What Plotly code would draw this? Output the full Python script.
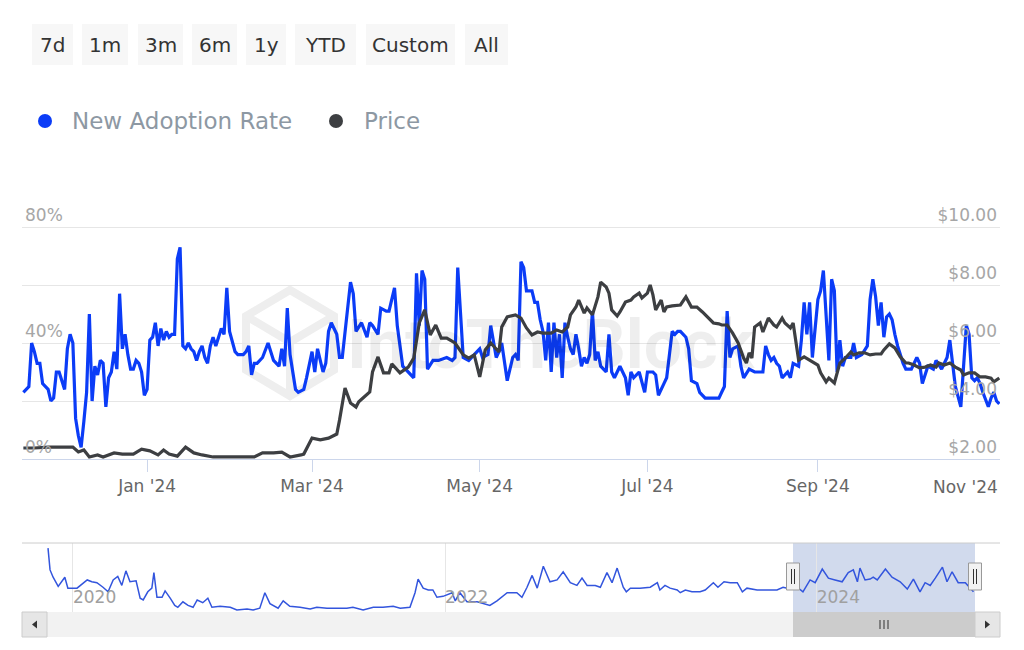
import pandas as pd
import plotly.graph_objects as go

W, H = 1024, 650

# ---------------- data ----------------
BASE_DATE = "2024-01-01"      # day offsets below are counted from this date
rate_day = [-45, -43, -42, -41, -40, -39, -38, -36, -35, -34, -33, -32, -31, -30, -29, -28, -27, -26, -25, -24,
            -23, -22, -21, -20, -19, -18, -17, -16, -15, -14, -13, -12, -11, -10, -9, -8, -7, -6, -5, -4,
            -3, -2, -1, 0, 1, 2, 3, 4, 5, 6, 7, 8, 9, 10, 11, 12, 13, 14, 15, 16,
            17, 18, 19, 20, 21, 22, 23, 24, 25, 26, 27, 28, 29, 30, 32, 33, 35, 36, 37, 38,
            39, 40, 41, 42, 44, 45, 46, 48, 49, 50, 51, 52, 54, 55, 57, 58, 60, 61, 62, 64,
            65, 66, 67, 69, 70, 71, 73, 74, 75, 76, 78, 80, 81, 82, 84, 85, 87, 88, 90, 91,
            93, 95, 97, 98, 99, 100, 101, 102, 104, 106, 109, 111, 112, 113, 115, 117, 119, 121, 122, 124,
            125, 127, 128, 129, 131, 133, 134, 135, 136, 137, 138, 140, 141, 142, 143, 144, 145, 146, 147, 148,
            149, 150, 151, 152, 153, 154, 155, 156, 157, 158, 159, 160, 161, 162, 163, 164, 165, 167, 168, 169,
            170, 172, 174, 175, 176, 177, 179, 180, 181, 182, 184, 185, 186, 188, 189, 190, 191, 192, 193, 194,
            196, 197, 198, 200, 201, 203, 205, 207, 208, 209, 210, 211, 212, 213, 215, 216, 217, 219, 221, 222,
            224, 225, 226, 227, 228, 229, 230, 231, 233, 234, 235, 237, 238, 239, 240, 241, 242, 244, 245, 246,
            247, 248, 249, 250, 251, 252, 253, 254, 256, 257, 258, 260, 262, 263, 264, 265, 266, 267, 268, 269,
            270, 271, 272, 273, 275, 276, 278, 280, 281, 282, 284, 286, 287, 289, 290, 291, 292, 293, 294, 296,
            297, 298, 299, 300, 301, 302, 303, 304, 306, 307, 308, 309, 310]
rate_pct = [23, 25, 40, 37, 33, 33, 26, 24, 20, 21, 30, 30, 27, 24, 38, 43, 40, 14, 8, 4,
            13, 23, 50, 20, 32, 29, 34, 33, 18, 28, 30, 37, 31, 57, 38, 43, 36, 31, 31, 34,
            33, 30, 22, 24, 41, 42, 47, 39, 45, 41, 44, 42, 43, 43, 69, 73, 39, 38, 40, 38,
            37, 34, 37, 39, 35, 33, 39, 42, 39, 42, 45, 43, 59, 44, 37, 36, 36, 37, 39, 29,
            33, 33, 34, 35, 40, 37, 34, 32, 38, 32, 52, 36, 24, 23, 24, 28, 37, 30, 38, 30,
            33, 44, 47, 43, 35, 35, 54, 61, 57, 44, 47, 42, 47, 46, 43, 52, 51, 51, 59, 46,
            32, 30, 28, 64, 46, 65, 62, 31, 34, 34, 35, 34, 35, 66, 35, 34, 36, 38, 35, 36,
            46, 35, 37, 40, 27, 35, 36, 34, 68, 66, 58, 58, 54, 54, 48, 44, 34, 47, 30, 47,
            35, 43, 28, 47, 42, 38, 36, 43, 38, 32, 35, 33, 36, 51, 34, 37, 32, 30, 43, 30,
            28, 32, 28, 22, 30, 28, 30, 26, 23, 30, 30, 29, 22, 26, 28, 36, 44, 43, 44, 44,
            42, 38, 27, 26, 23, 21, 21, 21, 21, 23, 25, 51, 35, 38, 39, 32, 28, 31, 30, 30,
            30, 39, 36, 34, 35, 33, 32, 28, 30, 28, 33, 32, 41, 54, 43, 54, 35, 55, 58, 65,
            51, 34, 62, 58, 30, 41, 32, 35, 35, 40, 35, 36, 39, 55, 62, 56, 46, 54, 42, 49,
            50, 48, 43, 39, 33, 31, 31, 35, 33, 26, 32, 31, 34, 31, 33, 35, 41, 34, 25, 18,
            32, 46, 43, 28, 27, 28, 26, 23, 18, 21, 23, 20, 19]

price_day = [-45, -41, -36, -32, -27, -25, -23, -21, -18, -16, -12, -9, -5, -2, 1, 4, 6, 8, 11, 14,
             17, 20, 24, 29, 34, 39, 42, 46, 49, 52, 56, 57, 60, 63, 66, 69, 70, 72, 74, 76,
             77, 79, 81, 82, 84, 86, 88, 89, 92, 95, 97, 99, 101, 103, 105, 107, 109, 112, 115, 117,
             119, 121, 123, 125, 128, 129, 131, 134, 136, 138, 140, 142, 144, 147, 149, 151, 153, 154, 156, 157,
             159, 160, 162, 164, 165, 167, 168, 169, 171, 172, 174, 176, 177, 179, 180, 182, 183, 184, 185, 187,
             188, 189, 191, 194, 196, 198, 200, 202, 204, 206, 208, 209, 211, 213, 215, 217, 218, 219, 220, 221,
             223, 224, 226, 228, 229, 231, 232, 234, 235, 236, 237, 239, 241, 244, 245, 247, 248, 250, 252, 254,
             256, 257, 259, 261, 263, 265, 267, 268, 270, 272, 274, 276, 277, 279, 281, 283, 285, 287, 288, 290,
             292, 294, 296, 297, 299, 301, 303, 305, 307, 308, 310]
price_usd = [2.38, 2.38, 2.41, 2.41, 2.41, 2.24, 2.31, 2.07, 2.14, 2.07, 2.21, 2.17, 2.17, 2.34, 2.28, 2.14, 2.31, 2.17, 2.10, 2.41,
             2.21, 2.14, 2.07, 2.07, 2.07, 2.07, 2.21, 2.21, 2.24, 2.07, 2.14, 2.17, 2.72, 2.66, 2.72, 2.86, 3.34, 4.45, 3.93, 3.79,
             3.97, 4.14, 4.31, 5.00, 5.52, 4.97, 4.97, 5.28, 4.97, 5.17, 5.48, 6.69, 7.14, 6.28, 6.62, 6.17, 6.17, 6.00, 5.59, 5.48,
             5.59, 4.83, 5.76, 6.00, 5.69, 6.55, 6.90, 6.97, 6.86, 6.52, 6.28, 6.38, 6.34, 6.34, 6.45, 6.38, 6.55, 6.97, 7.24, 7.48,
             7.03, 7.21, 6.97, 7.59, 8.10, 7.93, 7.72, 7.14, 6.93, 7.07, 7.41, 7.48, 7.59, 7.72, 7.55, 7.72, 8.00, 7.66, 7.14, 7.48,
             7.07, 7.24, 7.28, 7.31, 7.59, 7.24, 7.24, 7.07, 6.86, 6.69, 6.66, 6.62, 6.62, 6.34, 6.00, 5.48, 5.31, 5.66, 5.48, 6.55,
             6.69, 6.38, 6.86, 6.62, 6.55, 6.86, 6.69, 6.52, 6.69, 6.00, 5.41, 5.52, 5.41, 5.24, 4.97, 4.66, 4.79, 4.62, 5.31, 5.48,
             5.69, 5.59, 5.66, 5.66, 5.59, 5.62, 5.62, 5.76, 5.97, 5.83, 5.52, 5.31, 5.31, 5.24, 5.14, 5.17, 5.24, 5.17, 5.31, 5.24,
             5.31, 5.17, 5.07, 4.90, 4.97, 4.97, 4.83, 4.83, 4.79, 4.66, 4.79]

NAV_BASE_DATE = "2020-01-01"  # navigator day offsets are counted from this date
nav_day = [-49, -45, -39, -29, -16, -10, 8, 18, 28, 37, 47, 59, 69, 79, 88, 96, 104, 112, 124, 132,
           138, 147, 155, 159, 165, 175, 181, 191, 200, 206, 216, 226, 236, 244, 255, 265, 273, 289, 309, 322,
           342, 354, 367, 377, 387, 403, 413, 426, 446, 466, 479, 499, 519, 538, 550, 570, 590, 609, 629, 643,
           662, 672, 678, 688, 698, 707, 715, 727, 745, 751, 760, 774, 794, 819, 833, 853, 872, 882, 892, 902,
           912, 924, 937, 951, 963, 977, 990, 1000, 1010, 1026, 1036, 1049, 1059, 1069, 1081, 1087, 1095, 1114, 1134, 1148,
           1153, 1163, 1173, 1187, 1193, 1203, 1216, 1232, 1242, 1258, 1267, 1279, 1291, 1305, 1315, 1324, 1344, 1364, 1383, 1395,
           1409, 1423, 1434, 1448, 1458, 1472, 1484, 1497, 1511, 1523, 1533, 1541, 1546, 1556, 1566, 1572, 1580, 1596, 1609, 1625,
           1639, 1651, 1664, 1674, 1684, 1694, 1708, 1717, 1727, 1739, 1753, 1769]
nav_pct = [70, 46, 38, 28, 38, 26, 26, 31, 35, 33, 32, 27, 22, 35, 39, 29, 45, 33, 34, 15,
           13, 22, 26, 43, 16, 16, 23, 15, 7, 5, 11, 7, 5, 13, 10, 15, 5, 6, 5, 2,
           3, 2, 4, 21, 9, 4, 12, 6, 5, 3, 5, 4, 4, 4, 5, 2, 5, 5, 6, 4,
           5, 21, 36, 26, 24, 24, 16, 17, 21, 12, 21, 11, 11, 7, 12, 21, 21, 16, 27, 40,
           26, 50, 33, 35, 44, 32, 29, 37, 29, 29, 27, 43, 32, 48, 27, 22, 26, 26, 27, 32,
           24, 29, 26, 24, 21, 24, 22, 22, 24, 32, 27, 33, 32, 32, 22, 26, 24, 24, 24, 27,
           25, 27, 22, 35, 32, 47, 37, 35, 33, 43, 46, 33, 48, 35, 36, 38, 35, 47, 38, 33,
           25, 36, 22, 32, 29, 37, 49, 33, 44, 32, 32, 22]

range_buttons = ["7d", "1m", "3m", "6m", "1y", "YTD", "Custom", "All"]
legend_names = ["New Adoption Rate", "Price"]
left_ticks = [0, 40, 80]
left_tick_text = ["0%", "40%", "80%"]
right_ticks = [2, 4, 6, 8, 10]
right_tick_text = ["$2.00", "$4.00", "$6.00", "$8.00", "$10.00"]
main_tick_dates = ["2024-01-01", "2024-03-01", "2024-05-01", "2024-07-01", "2024-09-01", "2024-11-01"]
main_tick_text = ["Jan '24", "Mar '24", "May '24", "Jul '24", "Sep '24", ""]
last_tick_text = "Nov '24"
nav_tick_dates = ["2020-01-01", "2022-01-01", "2024-01-01"]
nav_tick_text = ["2020", "2022", "2024"]
main_range = ["2023-11-16 12:00", "2024-11-06 06:00"]
nav_range = ["2019-11-11", "2024-11-07"]
watermark = "IntoTheBlock"

rate_dates = pd.Timestamp(BASE_DATE) + pd.to_timedelta(rate_day, unit="D")
price_dates = pd.Timestamp(BASE_DATE) + pd.to_timedelta(price_day, unit="D")
nav_dates = pd.Timestamp(NAV_BASE_DATE) + pd.to_timedelta(nav_day, unit="D")

# ---------------- styling ----------------
FONT = "DejaVu Sans"
BLUE = "#0b3cf7"
DARK = "#3d3f42"
NAV_BLUE = "#3355dd"

# plot area (pixels): bottom gridline 459, top gridline 227; domain extended upward so the
# top tick labels (drawn above their gridline) remain visible
PLOT_BOTTOM, PLOT_TOP_GRID, DOMAIN_TOP = 459, 227, 200
LEFT_MAX = 80 * (PLOT_BOTTOM - DOMAIN_TOP) / (PLOT_BOTTOM - PLOT_TOP_GRID)
RIGHT_MAX = 2 + 8 * (PLOT_BOTTOM - DOMAIN_TOP) / (PLOT_BOTTOM - PLOT_TOP_GRID)


def px(x):
    return x / W


def py(y):
    return 1 - y / H


fig = go.Figure()

fig.add_trace(go.Scatter(x=rate_dates, y=rate_pct, mode="lines", xaxis="x", yaxis="y",
                         line=dict(color=BLUE, width=3.2), hoverinfo="skip"))
fig.add_trace(go.Scatter(x=price_dates, y=price_usd, mode="lines", xaxis="x", yaxis="y2",
                         line=dict(color=DARK, width=3.2), hoverinfo="skip"))
fig.add_trace(go.Scatter(x=nav_dates, y=nav_pct, mode="lines", xaxis="x2", yaxis="y3",
                         line=dict(color=NAV_BLUE, width=1.5), hoverinfo="skip"))

shapes = []
annotations = []

# range selector buttons
btn_boxes = [(32, 73), (82, 128), (138, 183), (192, 237), (246, 286), (295, 356), (366, 455), (465, 508)]
for label, (x0, x1) in zip(range_buttons, btn_boxes):
    shapes.append(dict(type="rect", xref="paper", yref="paper", x0=px(x0), x1=px(x1), y0=py(65), y1=py(24),
                       fillcolor="#f7f7f7", line=dict(width=0), layer="above"))
    annotations.append(dict(text=label, xref="paper", yref="paper", x=px((x0 + x1) / 2), y=py(45),
                            xanchor="center", yanchor="middle", showarrow=False,
                            font=dict(family=FONT, size=20, color="#333333")))

# legend
for (cx, tx), name, col in zip([(45, 70), (336, 362)], legend_names, [BLUE, DARK]):
    shapes.append(dict(type="circle", xref="paper", yref="paper", xsizemode="pixel", ysizemode="pixel",
                       xanchor=px(cx), yanchor=py(121), x0=-7, x1=7, y0=-7, y1=7,
                       fillcolor=col, line=dict(width=0)))
    annotations.append(dict(text=name, xref="paper", yref="paper", x=px(tx), y=py(121),
                            xanchor="left", yanchor="middle", showarrow=False,
                            font=dict(family=FONT, size=23, color="#8d98a3")))

# watermark (cube logo + text)
wm_col = "#eeeeee"
hexpath = "M {} {} L {} {} L {} {} L {} {} L {} {} L {} {} Z".format(
    px(290), py(290), px(334), py(316), px(334), py(370), px(290), py(396), px(246), py(370), px(246), py(316))
shapes.append(dict(type="path", xref="paper", yref="paper", path=hexpath,
                   line=dict(color=wm_col, width=8), layer="below"))
inner = "M {} {} L {} {} L {} {} M {} {} L {} {}".format(
    px(246), py(316), px(290), py(342), px(334), py(316), px(290), py(342), px(290), py(396))
shapes.append(dict(type="path", xref="paper", yref="paper", path=inner,
                   line=dict(color=wm_col, width=8), layer="below"))
annotations.append(dict(text=watermark, xref="paper", yref="paper", x=px(345), y=py(345),
                        xanchor="left", yanchor="middle", showarrow=False,
                        font=dict(family="Roboto", size=68, color="rgba(0,0,0,0.065)", weight=700)))

# last x tick label, kept inside the chart
annotations.append(dict(text=last_tick_text, xref="paper", yref="paper", x=px(1000), y=py(487),
                        xanchor="right", yanchor="middle", showarrow=False,
                        font=dict(family=FONT, size=17, color="#666666")))

# navigator frame, mask and handles
shapes.append(dict(type="line", xref="paper", yref="paper", x0=px(22), x1=px(1000), y0=py(543), y1=py(543),
                   line=dict(color="#cccccc", width=1)))
shapes.append(dict(type="rect", xref="paper", yref="paper", x0=px(793), x1=px(975), y0=py(612), y1=py(543),
                   fillcolor="rgba(102,133,194,0.3)", line=dict(width=0), layer="below"))
for hx in (793, 975):
    shapes.append(dict(type="rect", xref="paper", yref="paper", x0=px(hx - 6.5), x1=px(hx + 6.5),
                       y0=py(590), y1=py(563), fillcolor="#f2f2f2", line=dict(color="#999999", width=1)))
    for dx in (-1.5, 1.5):
        shapes.append(dict(type="line", xref="paper", yref="paper", x0=px(hx + dx), x1=px(hx + dx),
                           y0=py(584), y1=py(569), line=dict(color="#333333", width=1)))

# scrollbar
shapes.append(dict(type="rect", xref="paper", yref="paper", x0=px(22), x1=px(1000), y0=py(637), y1=py(612),
                   fillcolor="#f2f2f2", line=dict(width=0)))
shapes.append(dict(type="rect", xref="paper", yref="paper", x0=px(793), x1=px(975), y0=py(637), y1=py(612),
                   fillcolor="#cccccc", line=dict(width=0)))
for bx0, bx1 in ((22, 47), (975, 1000)):
    shapes.append(dict(type="rect", xref="paper", yref="paper", x0=px(bx0), x1=px(bx1), y0=py(637), y1=py(612),
                       fillcolor="#e6e6e6", line=dict(color="#cccccc", width=1)))
shapes.append(dict(type="path", xref="paper", yref="paper",
                   path="M {} {} L {} {} L {} {} Z".format(px(32), py(624.5), px(37), py(620.5), px(37), py(628.5)),
                   fillcolor="#333333", line=dict(width=0)))
shapes.append(dict(type="path", xref="paper", yref="paper",
                   path="M {} {} L {} {} L {} {} Z".format(px(990), py(624.5), px(985), py(620.5), px(985), py(628.5)),
                   fillcolor="#333333", line=dict(width=0)))
for gx in (880, 884, 888):
    shapes.append(dict(type="line", xref="paper", yref="paper", x0=px(gx), x1=px(gx), y0=py(629), y1=py(620),
                       line=dict(color="#333333", width=1)))

fig.update_layout(
    width=W, height=H,
    margin=dict(l=0, r=0, t=0, b=0, pad=0),
    paper_bgcolor="white", plot_bgcolor="rgba(0,0,0,0)",
    showlegend=False, hovermode=False,
    font=dict(family=FONT),
    xaxis=dict(domain=[px(22), px(1000)], anchor="y", type="date", range=main_range,
               tickvals=main_tick_dates, ticktext=main_tick_text,
               ticks="outside", ticklen=12, tickcolor="#ccd6eb", tickwidth=1,
               showline=True, linecolor="#ccd6eb", linewidth=1, showgrid=False, zeroline=False,
               tickfont=dict(family=FONT, size=17, color="#666666"), automargin=False, fixedrange=True),
    yaxis=dict(domain=[py(PLOT_BOTTOM), py(DOMAIN_TOP)], anchor="x", range=[0, LEFT_MAX],
               tickvals=left_ticks, ticktext=left_tick_text,
               ticklabelposition="inside top", showgrid=False, zeroline=False, showline=False,
               tickfont=dict(family=FONT, size=17, color="#a6a6a6"), automargin=False, fixedrange=True),
    yaxis2=dict(overlaying="y", side="right", anchor="x", range=[2, RIGHT_MAX],
                tickvals=right_ticks, ticktext=right_tick_text, ticklabelposition="inside top",
                showgrid=True, gridcolor="#e6e6e6", gridwidth=1, zeroline=False, showline=False,
                tickfont=dict(family=FONT, size=17, color="#a6a6a6"), automargin=False, fixedrange=True),
    xaxis2=dict(domain=[px(47), px(975)], anchor="y3", type="date", range=nav_range,
                tickvals=nav_tick_dates, ticktext=nav_tick_text, ticklabelposition="inside right",
                showgrid=True, gridcolor="#e6e6e6", gridwidth=1, zeroline=False, showline=False, ticks="",
                tickfont=dict(family=FONT, size=17, color="#a0a0a0"), automargin=False, fixedrange=True),
    yaxis3=dict(domain=[py(612), py(543)], anchor="x2", range=[-0.2, 75.6], showticklabels=False,
                showgrid=False, zeroline=False, showline=False, automargin=False, fixedrange=True),
    shapes=shapes,
    annotations=annotations,
)

fig.write_html("out.html", config={"displayModeBar": False, "staticPlot": True})
